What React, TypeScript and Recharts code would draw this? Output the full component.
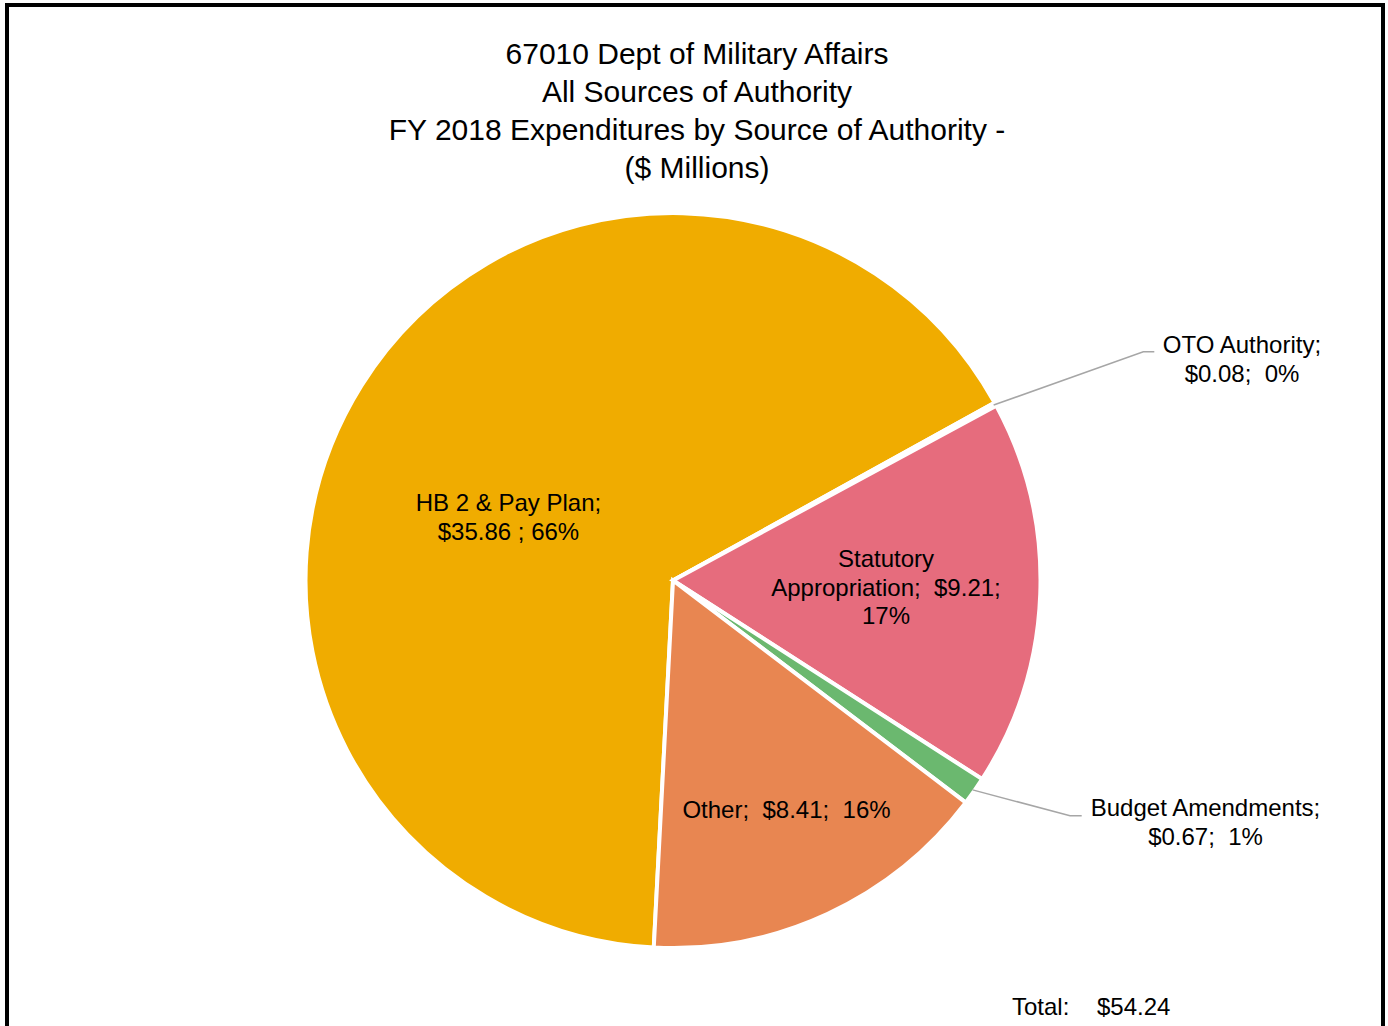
import { PieChart, Pie, Cell } from 'recharts';

// slices, in clockwise order starting from the HB 2 slice
const sources = ['HB 2 & Pay Plan', 'OTO Authority', 'Statutory Appropriation', 'Budget Amendments', 'Other'];
const amounts = [35.86, 0.08, 9.21, 0.67, 8.41];
const sliceColors = ['#F0AC00', '#4F81BD', '#E66C7D', '#6BB86F', '#E88651'];

// data label text, already wrapped the way the original shows it
const labelText = [
  ['HB 2 & Pay Plan;', '$35.86 ; 66%'],
  ['OTO Authority;', '$0.08;  0%'],
  ['Statutory', 'Appropriation;  $9.21;', '17%'],
  ['Budget Amendments;', '$0.67;  1%'],
  ['Other;  $8.41;  16%'],
];

const titleLines = [
  '67010 Dept of Military Affairs',
  'All Sources of Authority',
  'FY 2018 Expenditures by Source of Authority -',
  '($ Millions)',
];
const totalLabel = 'Total:';
const totalValue = '$54.24';

const FONT = '"Liberation Sans", Arial, sans-serif';
const CX = 673;
const CY = 580.5;

// where each label sits relative to the pie centre (first baseline), plus leader elbows
const labelSpots: { dx: number; dy: number; elbow?: [number, number]; tail?: [number, number] }[] = [
  { dx: -164.5, dy: -69.5 },
  { dx: 569, dy: -227.5, elbow: [470.3, -228.8], tail: [481.3, -228.8] },
  { dx: 213, dy: -13.5 },
  { dx: 532.5, dy: 235.5, elbow: [397, 235.2], tail: [408.7, 235.2] },
  { dx: 113.5, dy: 237.5 },
];

const chartData = sources.map((name, i) => ({ name, value: amounts[i] }));

const renderLabel = (props: any) => {
  const { cx, cy, midAngle, outerRadius, index } = props;
  const spot = labelSpots[index];
  const lines = labelText[index];
  const x = cx + spot.dx;
  const y0 = cy + spot.dy;
  let leader = null;
  if (spot.elbow && spot.tail) {
    const RAD = Math.PI / 180;
    const sx = cx + (outerRadius - 2) * Math.cos(-midAngle * RAD);
    const sy = cy + (outerRadius - 2) * Math.sin(-midAngle * RAD);
    leader = (
      <polyline
        points={`${sx},${sy} ${cx + spot.elbow[0]},${cy + spot.elbow[1]} ${cx + spot.tail[0]},${cy + spot.tail[1]}`}
        fill="none"
        stroke="#A6A6A6"
        strokeWidth={1.5}
      />
    );
  }
  return (
    <g key={`lbl-${index}`}>
      {leader}
      <text
        x={x}
        y={y0}
        textAnchor="middle"
        fontFamily={FONT}
        fontSize={24}
        fill="#000"
        style={{ whiteSpace: 'pre' }}
      >
        {lines.map((line, i) => (
          <tspan key={i} x={x} y={y0 + i * 28.5}>
            {line}
          </tspan>
        ))}
      </text>
    </g>
  );
};

export default function App() {
  return (
    <div style={{ position: 'absolute', left: 0, top: 0, width: 1388, height: 1026, overflow: 'hidden', background: '#fff' }}>
      <div
        style={{
          position: 'absolute',
          left: 5,
          top: 3,
          width: 1380,
          height: 1100,
          border: '4px solid #000',
          boxSizing: 'border-box',
        }}
      />
      <div style={{ position: 'absolute', left: 0, top: 0 }}>
        <PieChart width={1388} height={1026} margin={{ top: 0, right: 0, bottom: 0, left: 0 }}>
          <Pie
            data={chartData}
            dataKey="value"
            nameKey="name"
            cx={CX}
            cy={CY}
            outerRadius={367.5}
            startAngle={-93}
            endAngle={-453}
            stroke="#fff"
            strokeWidth={4}
            label={renderLabel}
            labelLine={false}
            isAnimationActive={false}
          >
            {chartData.map((d, i) => (
              <Cell key={d.name} fill={sliceColors[i]} />
            ))}
          </Pie>
        </PieChart>
      </div>
      <svg width={1388} height={1026} style={{ position: 'absolute', left: 0, top: 0, pointerEvents: 'none' }}>
        {titleLines.map((line, i) => (
          <text key={line} x={697} y={64 + i * 38} textAnchor="middle" fontFamily={FONT} fontSize={30} fill="#000">
            {line}
          </text>
        ))}
        <text x={1012} y={1015} fontFamily={FONT} fontSize={24} fill="#000">
          {totalLabel}
        </text>
        <text x={1097} y={1015} fontFamily={FONT} fontSize={24} fill="#000">
          {totalValue}
        </text>
      </svg>
    </div>
  );
}
